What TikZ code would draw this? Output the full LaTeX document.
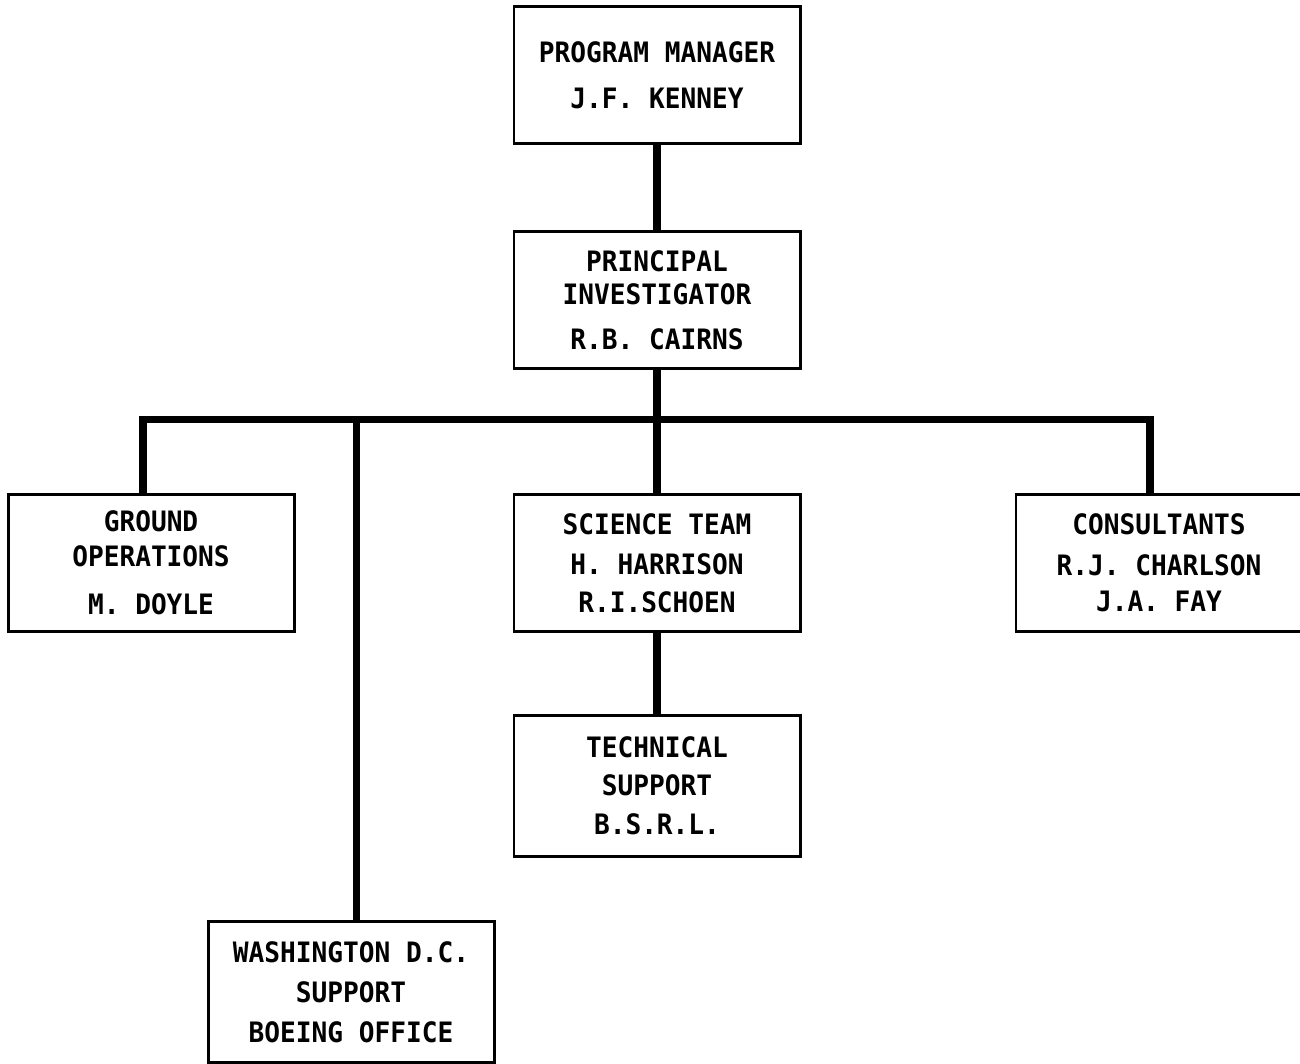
\documentclass[tikz,border=0pt]{standalone}
\usepackage{fontspec}
\setmonofont[FakeStretch=0.93]{DejaVu Sans Mono}
\usetikzlibrary{positioning,calc}
\tikzset{
    unit/.style = {draw, line width=1.7pt, minimum width=5.72cm,
            minimum height=2.74cm, align=center, inner sep=2pt,
            font=\ttfamily\bfseries\fontsize{16}{19}\selectfont},
    tallunit/.style = {unit, minimum height=2.82cm},
    link/.style = {line width=4pt},
}

\begin{document}
\begin{tikzpicture}[node distance=1.7cm and 4.3cm]
    \useasboundingbox (0,0) rectangle (26,-21.28);
    % Nodes
    \node[unit] (manager) at (13.14,-1.5) {PROGRAM MANAGER\\[0.25cm]J.F. KENNEY};
    \node[unit, below=1.70cm of manager] (investigator) {PRINCIPAL\\INVESTIGATOR\\[0.23cm]R.B. CAIRNS};
    \node[unit, below=2.46cm of investigator] (science) {SCIENCE TEAM\\[0.13cm]H. HARRISON\\[0.09cm]R.I.SCHOEN};
    \node[unit, left=4.34cm of science] (ground) {GROUND\\[0.03cm]OPERATIONS\\[0.29cm]M. DOYLE};
    \node[unit, right=4.26cm of science] (consultants) {CONSULTANTS\\[0.15cm]R.J. CHARLSON\\[0.05cm]J.A. FAY};
    \node[tallunit, below=1.62cm of science] (technical) {TECHNICAL\\[0.09cm]SUPPORT\\[0.11cm]B.S.R.L.};
    \node[tallunit, below=5.74cm of ground, xshift=4cm] (washington) {WASHINGTON D.C.\\[0.13cm]SUPPORT\\[0.13cm]BOEING OFFICE};
    % Taps
    \coordinate (bus) at ($(investigator.south)+(0,-1.0)$);
    \coordinate (gtap) at ($(ground.north)+(-0.16,0)$);
    \coordinate (ctap) at ($(consultants.north)+(-0.18,0)$);
    \coordinate (wtap) at ($(washington.north)+(0.1,0)$);
    % Lines
    \draw[link] (manager) -- (investigator);
    \draw[link] (investigator) -- (science);
    \draw[link] (science) -- (technical);
    \draw[link] (gtap) |- (bus) -| (ctap);
    \draw[link] (wtap) -- (wtap |- bus);
\end{tikzpicture}
\end{document}
